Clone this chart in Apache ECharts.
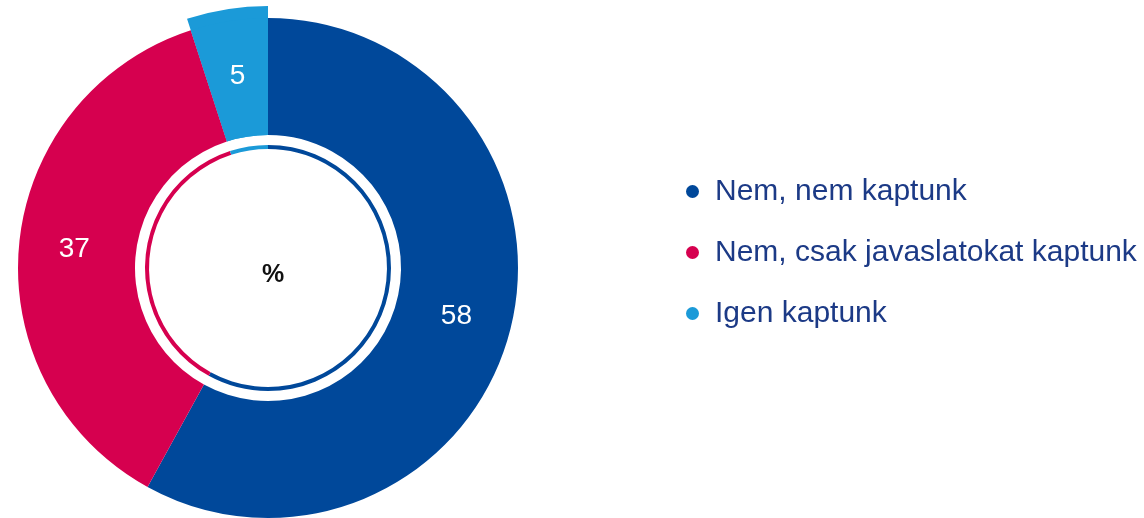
<!DOCTYPE html>
<html lang="hu">
<head>
    <meta charset="UTF-8">
    <title>Kaptak-e</title>
    <script src="https://cdn.jsdelivr.net/npm/echarts@6/dist/echarts.min.js"></script>
    <style>
        html, body { margin: 0; padding: 0; background: #fff; }
    </style>
</head>
<body>
<div id="main" style="width: 1144px;height:518px;"></div>
<script type="text/javascript">
    var categories = ['Nem, nem kaptunk', 'Nem, csak javaslatokat kaptunk', 'Igen kaptunk'];
    var values = [58, 37, 5];
    var colors = ['#00489a', '#d6004f', '#1b9ad8'];
    // only the last slice sticks out a bit further
    var raised = [false, false, true];

    var myChart = echarts.init(document.getElementById('main'));

    var pieData = categories.map(function (name, i) {
        return { name: name, value: values[i], itemStyle: { color: colors[i] } };
    });

    var option = {
        animation: false,
        textStyle: { fontFamily: 'Liberation Sans, Arial, sans-serif' },
        title: {
            text: '%',
            left: 268,
            top: 270,
            textAlign: 'center',
            textVerticalAlign: 'middle',
            textStyle: { fontSize: 25, fontWeight: 'bold', color: '#111' }
        },
        legend: {
            orient: 'vertical',
            left: 681,
            top: 171,
            icon: 'circle',
            itemWidth: 13,
            itemHeight: 13,
            itemGap: 30,
            data: categories,
            textStyle: { fontSize: 30, lineHeight: 31, color: '#1c3a86', padding: [0, 0, 0, 11] }
        },
        series: [{
            type: 'pie',
            z: 3,
            center: [268, 268],
            radius: [133, 250],
            startAngle: 90,
            clockwise: true,
            silent: true,
            itemStyle: { borderWidth: 0 },
            label: {
                show: true,
                position: 'inside',
                formatter: '{c}',
                color: '#fff',
                fontSize: 28
            },
            labelLine: { show: false },
            data: pieData
        }, {
            type: 'pie',
            z: 1,
            center: [268, 268],
            radius: [133, 262],
            startAngle: 90,
            clockwise: true,
            silent: true,
            itemStyle: { borderWidth: 0 },
            label: { show: false },
            labelLine: { show: false },
            data: pieData.map(function (d, i) {
                return {
                    name: d.name,
                    value: d.value,
                    itemStyle: { color: raised[i] ? colors[i] : 'rgba(0,0,0,0)' }
                };
            })
        }, {
            type: 'pie',
            center: [268, 268],
            radius: [119, 123],
            startAngle: 90,
            clockwise: true,
            silent: true,
            itemStyle: { borderWidth: 0 },
            label: { show: false },
            labelLine: { show: false },
            data: pieData
        }]
    };
    myChart.setOption(option);
</script>

</body>
</html>
